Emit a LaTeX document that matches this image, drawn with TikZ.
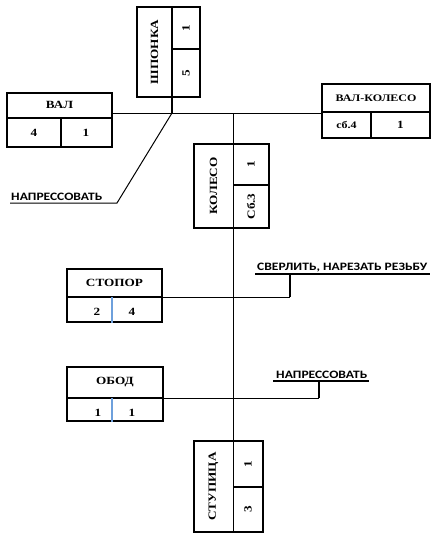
\documentclass[tikz,border=0pt]{standalone}
\usepackage{fontspec}
\setmainfont{Liberation Serif}
\newfontfamily\boxfont[FakeStretch=1.2]{Liberation Serif}
\newfontfamily\annfont[FakeStretch=1.2]{Carlito}
\begin{document}
\begin{tikzpicture}[x=1pt,y=-1pt,
  box/.style={draw,line width=1.3pt,inner sep=0pt,rectangle},
  div/.style={line width=1.1pt},
  bdiv/.style={line width=1.1pt,draw={rgb,255:red,110;green,160;blue,220}},
  conn/.style={line width=1pt},
  brk/.style={line width=2pt},
  uline/.style={line width=1.1pt},
  lbl/.style={font=\boxfont\bfseries\fontsize{11}{12}\selectfont,inner sep=0pt},
  slbl/.style={font=\boxfont\bfseries\fontsize{10}{11}\selectfont,inner sep=0pt},
  rlbl/.style={lbl,rotate=90},
  ann/.style={font=\annfont\bfseries\fontsize{11.3}{13}\selectfont,inner sep=0pt,anchor=south west}]
\useasboundingbox (0,0) rectangle (431,533);

% boxes
\node[box,minimum width=105pt,minimum height=54pt] (val) at (59.5,120) {};
\node[box,minimum width=63pt,minimum height=90pt] (shp) at (168.5,52) {};
\node[box,minimum width=108pt,minimum height=54pt] (vk) at (376,111) {};
\node[box,minimum width=75pt,minimum height=84pt] (kol) at (231.5,186) {};
\node[box,minimum width=95pt,minimum height=53pt] (stop) at (114.5,295.5) {};
\node[box,minimum width=96pt,minimum height=54pt] (obod) at (115,394) {};
\node[box,minimum width=69pt,minimum height=91pt] (stup) at (228.5,486.5) {};

% junction coordinates
\coordinate (j1) at (172,113);
\coordinate (j2) at (233,113);

% dividers
\draw[div] (val.west |- 0,118) -- (val.east |- 0,118);
\draw[div] (61,118) -- (val.south -| 61,0);
\draw[div] (shp.north -| j1) -- (j1);
\draw[div] (j1 |- 0,49) -- (shp.east |- 0,49);
\draw[div] (vk.west |- 0,112) -- (vk.east |- 0,112);
\draw[div] (371,112) -- (vk.south -| 371,0);
\draw[div] (j2 |- 0,185) -- (kol.east |- 0,185);
\draw[div] (stop.west |- 0,297) -- (stop.east |- 0,297);
\draw[bdiv] (112,297) -- (stop.south -| 112,0);
\draw[div] (obod.west |- 0,398) -- (obod.east |- 0,398);
\draw[bdiv] (112,398) -- (obod.south -| 112,0);
\draw[div] (j2 |- 0,487) -- (stup.east |- 0,487);

% main lines
\draw[conn] (val.east |- j1) -- (vk.west |- j1);
\draw[conn] (j2) -- (j2 |- stup.south);

% annotation 1
\coordinate (u1) at (117,203);
\coordinate (u1l) at (10,203);
\draw[conn] (j1) -- (u1) -- (u1l);
\node[ann] (a1) at (11,201) {НАПРЕССОВАТЬ};

% annotation 2
\coordinate (b2) at (290,297);
\coordinate (u2) at (290,274);
\coordinate (u2l) at (255,274);
\coordinate (u2r) at (430,274);
\draw[conn] (stop.east |- b2) -- (b2);
\draw[brk] (b2) -- (u2);
\draw[uline] (u2l) -- (u2r);
\node[ann] (a2) at (257,272) {СВЕРЛИТЬ, НАРЕЗАТЬ РЕЗЬБУ};

% annotation 3
\coordinate (b3) at (319,398);
\coordinate (u3) at (319,381);
\coordinate (u3l) at (273,381);
\coordinate (u3r) at (369,381);
\draw[conn] (obod.east |- b3) -- (b3);
\draw[brk] (b3) -- (u3);
\draw[uline] (u3l) -- (u3r);
\node[ann] (a3) at (276,379) {НАПРЕССОВАТЬ};

% labels
\node[lbl] (tval) at (59.5,105) {ВАЛ};
\node[lbl] (tval1) at (34,133) {4};
\node[lbl] (tval2) at (86,133) {1};
\node[rlbl] (tshp) at (154.5,52) {ШПОНКА};
\node[rlbl] (tshp1) at (186,28) {1};
\node[rlbl] (tshp2) at (186,73) {5};
\node[slbl] (tvk) at (376,98) {ВАЛ-КОЛЕСО};
\node[slbl] (tvk1) at (346.5,125) {сб.4};
\node[lbl] (tvk2) at (400.5,125) {1};
\node[rlbl] (tkol) at (213.5,186) {КОЛЕСО};
\node[rlbl] (tkol1) at (251,164.5) {1};
\node[rlbl] (tkol2) at (251,206.5) {Сб.3};
\node[lbl] (tstop) at (114.5,283) {СТОПОР};
\node[lbl] (tstop1) at (97,312) {2};
\node[lbl] (tstop2) at (132,312) {4};
\node[lbl] (tobod) at (115,382) {ОБОД};
\node[lbl] (tobod1) at (98,413) {1};
\node[lbl] (tobod2) at (132,413) {1};
\node[rlbl] (tstup) at (213.5,486.5) {СТУПИЦА};
\node[rlbl] (tstup1) at (248,464) {1};
\node[rlbl] (tstup2) at (248,509.5) {3};
\end{tikzpicture}
\end{document}
